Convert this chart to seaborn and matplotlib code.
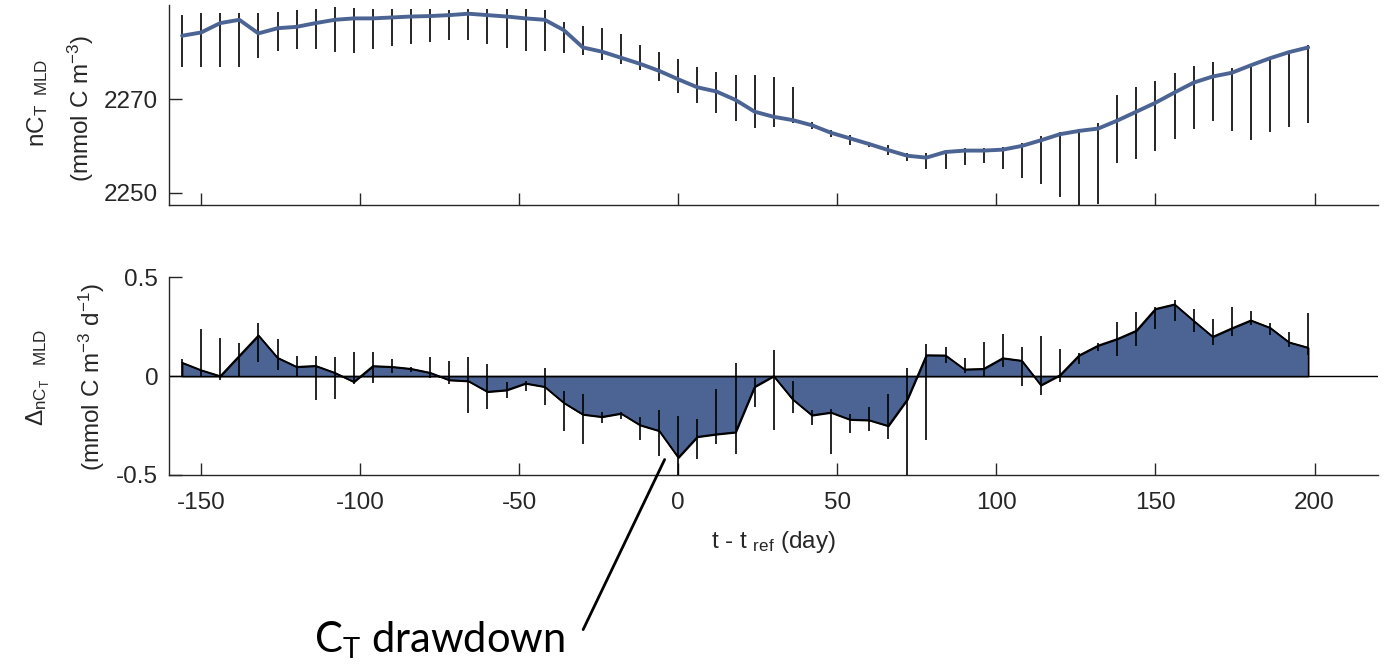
import numpy as np
import pandas as pd
import matplotlib
matplotlib.use("Agg")
import matplotlib.pyplot as plt
import seaborn as sns

# ---------------- data ----------------
t_days = list(range(-156, 199, 6))  # t - t_ref (day)

nct_mld = [2283.5, 2284.2, 2286.2, 2286.9, 2284.0, 2285.1, 2285.4, 2286.2, 2286.9, 2287.2,
           2287.2, 2287.4, 2287.6, 2287.7, 2287.9, 2288.2, 2287.9, 2287.6, 2287.2, 2286.9,
           2284.7, 2281.0, 2280.1, 2278.8, 2277.5, 2276.0, 2274.2, 2272.5, 2271.6, 2269.8,
           2267.3, 2266.2, 2265.5, 2264.4, 2262.8, 2261.6, 2260.4, 2259.1, 2257.9, 2257.5,
           2258.7, 2259.0, 2259.0, 2259.2, 2260.0, 2261.2, 2262.5, 2263.2, 2263.7, 2265.4,
           2267.3, 2269.2, 2271.4, 2273.5, 2274.8, 2275.6, 2277.2, 2278.7, 2280.0, 2281.0]
nct_bar_top = [2287.9, 2288.3, 2288.4, 2288.3, 2288.3, 2288.6, 2289.0, 2289.2, 2289.6, 2289.4,
               2289.2, 2289.2, 2289.3, 2289.3, 2289.0, 2289.2, 2289.2, 2289.3, 2289.2, 2288.9,
               2286.4, 2285.6, 2285.1, 2283.9, 2281.5, 2280.0, 2278.5, 2276.8, 2275.8, 2275.1,
               2275.1, 2274.8, 2272.6, 2265.2, 2263.4, 2262.3, 2260.9, 2260.2, 2258.5, 2258.4,
               2259.2, 2259.5, 2259.5, 2259.8, 2260.7, 2262.1, 2263.0, 2263.7, 2264.8, 2270.8,
               2272.5, 2273.9, 2275.6, 2277.0, 2278.0, 2276.6, 2277.5, 2279.0, 2280.3, 2281.5]
nct_bar_bot = [2276.9, 2276.9, 2276.8, 2276.9, 2278.8, 2280.2, 2280.7, 2280.7, 2280.0, 2279.9,
               2280.7, 2281.3, 2281.7, 2282.2, 2282.5, 2282.5, 2281.7, 2280.9, 2280.2, 2280.2,
               2279.9, 2279.3, 2278.3, 2277.4, 2276.2, 2273.9, 2271.3, 2269.1, 2267.1, 2265.4,
               2263.9, 2264.1, 2264.8, 2263.5, 2262.0, 2260.2, 2259.8, 2258.0, 2256.8, 2255.0,
               2255.0, 2255.9, 2256.4, 2255.0, 2253.1, 2251.8, 2249.1, 2246.0, 2247.7, 2256.3,
               2257.1, 2259.0, 2261.4, 2263.5, 2265.4, 2263.2, 2261.2, 2263.0, 2264.1, 2264.8]

dnct_mld = [0.068, 0.030, 0.000, 0.103, 0.206, 0.093, 0.047, 0.052, 0.017, -0.029,
            0.051, 0.047, 0.037, 0.017, -0.020, -0.025, -0.079, -0.071, -0.037, -0.054,
            -0.135, -0.194, -0.206, -0.189, -0.248, -0.277, -0.412, -0.307, -0.294, -0.284,
            -0.054, 0.000, -0.118, -0.198, -0.184, -0.220, -0.223, -0.252, -0.118, 0.106,
            0.105, 0.034, 0.037, 0.091, 0.078, -0.046, 0.005, 0.105, 0.155, 0.188,
            0.230, 0.340, 0.363, 0.280, 0.199, 0.242, 0.282, 0.245, 0.171, 0.144]
dnct_bar_top = [0.088, 0.237, 0.191, 0.166, 0.270, 0.186, 0.103, 0.103, 0.098, 0.120,
                0.120, 0.086, 0.044, 0.095, 0.078, 0.098, 0.059, -0.029, -0.024, 0.042,
                -0.076, -0.088, -0.184, -0.181, -0.206, -0.169, -0.203, -0.215, -0.063, 0.064,
                -0.012, 0.132, -0.024, -0.172, -0.164, -0.193, -0.155, -0.091, 0.039, 0.162,
                0.145, 0.093, 0.172, 0.213, 0.145, 0.201, 0.139, 0.118, 0.166, 0.275,
                0.326, 0.351, 0.385, 0.340, 0.287, 0.348, 0.331, 0.267, 0.223, 0.318]
dnct_bar_bot = [0.000, -0.003, -0.020, -0.003, 0.071, 0.030, -0.003, -0.122, -0.118, -0.042,
                -0.037, 0.017, 0.022, -0.012, -0.042, -0.189, -0.164, -0.113, -0.074, -0.144,
                -0.277, -0.341, -0.237, -0.218, -0.321, -0.405, -0.520, -0.421, -0.341, -0.392,
                -0.155, -0.274, -0.189, -0.245, -0.392, -0.286, -0.277, -0.316, -0.520, -0.321,
                0.064, 0.017, 0.000, 0.047, -0.049, -0.096, -0.032, 0.059, 0.127, 0.101,
                0.152, 0.237, 0.279, 0.221, 0.155, 0.203, 0.258, 0.209, 0.145, 0.106]

x_ticks = [-150, -100, -50, 0, 50, 100, 150, 200]
x_tick_labels = ["-150", "-100", "-50", "0", "50", "100", "150", "200"]
top_y_ticks = [2250, 2270]
top_y_tick_labels = ["2250", "2270"]
bot_y_ticks = [-0.5, 0, 0.5]
bot_y_tick_labels = ["-0.5", "0", "0.5"]

df = pd.DataFrame({"t": t_days, "nct": nct_mld, "top": nct_bar_top, "bot": nct_bar_bot,
                   "d": dnct_mld, "dtop": dnct_bar_top, "dbot": dnct_bar_bot})

# ---------------- style ----------------
sns.set_style("ticks")
plt.rcParams["font.family"] = ["Liberation Sans", "DejaVu Sans"]
plt.rcParams["mathtext.fontset"] = "custom"
plt.rcParams["mathtext.rm"] = "Liberation Sans"
plt.rcParams["mathtext.it"] = "Liberation Sans"
plt.rcParams["mathtext.default"] = "regular"

BLUE = "#4c6494"
GRAY = "#262626"
FS = 17.5

fig = plt.figure(figsize=(13.95, 6.67), dpi=100)
ax1 = fig.add_axes([0.1214, 0.6927, 0.8665, 0.2994])
ax2 = fig.add_axes([0.1214, 0.2879, 0.8665, 0.2964])

# ---- top panel ----
ax1.vlines(df["t"], df["bot"], df["top"], color="black", lw=1.2, zorder=2)
sns.lineplot(data=df, x="t", y="nct", ax=ax1, color=BLUE, lw=2.8, zorder=3)
ax1.set_xlim(-160, 220)
ax1.set_ylim(2247.4, 2290)
ax1.set_xticks(x_ticks)
ax1.set_xticklabels([])
ax1.set_yticks(top_y_ticks)
ax1.set_yticklabels(top_y_tick_labels)

# ---- bottom panel ----
ax2.axhline(0, color="black", lw=1.0, zorder=1)
ax2.fill_between(df["t"], df["d"], 0, facecolor=BLUE, edgecolor="black", lw=1.2, zorder=2)
sns.lineplot(data=df, x="t", y="d", ax=ax2, color="black", lw=1.2, zorder=3)
ax2.vlines(df["t"], df["dbot"], df["dtop"], color="black", lw=1.2, zorder=4)
ax2.set_xlim(-160, 220)
ax2.set_ylim(-0.5, 0.5)
ax2.set_xticks(x_ticks)
ax2.set_xticklabels(x_tick_labels)
ax2.set_yticks(bot_y_ticks)
ax2.set_yticklabels(bot_y_tick_labels)

for ax in (ax1, ax2):
    ax.set_xlabel("")
    ax.set_ylabel("")
    for s in ("top", "right"):
        ax.spines[s].set_visible(False)
    for s in ("left", "bottom"):
        ax.spines[s].set_color(GRAY)
        ax.spines[s].set_linewidth(1.0)
    ax.tick_params(direction="in", length=9, width=1.0, color=GRAY,
                   labelsize=FS, labelcolor=GRAY)
    ax.tick_params(axis="y", pad=8)
    ax.tick_params(axis="x", pad=12)

# ---- labels ----
fig.text(37.5 / 1395, 1 - 103 / 667, r"nC$_{T\ \ MLD}$", rotation=90,
         ha="center", va="center", fontsize=FS, color=GRAY)
fig.text(81 / 1395, 1 - 108 / 667, r"(mmol C m$^{-3}$)", rotation=90,
         ha="center", va="center", fontsize=FS, color=GRAY)
fig.text(38 / 1395, 1 - 377 / 667, r"$\Delta_{nC_T\ \ \ MLD}$", rotation=90,
         ha="center", va="center", fontsize=FS, color=GRAY)
fig.text(92 / 1395, 1 - 377 / 667, r"(mmol C m$^{-3}$ d$^{-1}$)", rotation=90,
         ha="center", va="center", fontsize=FS, color=GRAY)
fig.text(773 / 1395, 1 - 542 / 667, r"t - t $_{ref}$ (day)",
         ha="center", va="center", fontsize=FS, color=GRAY)

# ---- annotation ----
ax2.annotate("C$_{T}$ drawdown", xy=(-4.3, -0.422), xycoords="data",
             xytext=(440 / 1395, 1 - 640 / 667), textcoords="figure fraction",
             ha="center", va="center", fontsize=30, color="black",
             fontfamily=["Lato", "DejaVu Sans"],
             annotation_clip=False,
             arrowprops=dict(arrowstyle="-", color="black", lw=2.0,
                             shrinkA=0, shrinkB=0,
                             patchA=None,
                             relpos=(1.07, 0.75)))

fig.savefig("out.png", dpi=100, facecolor="white")
